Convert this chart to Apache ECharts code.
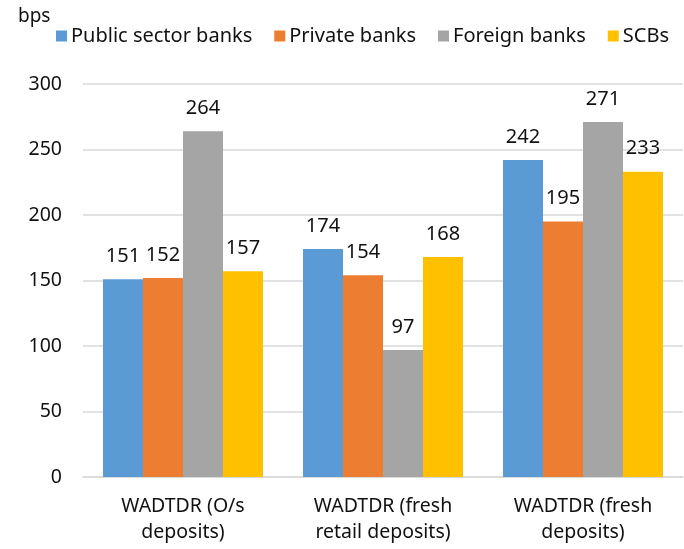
<!DOCTYPE html>
<html><head><meta charset="utf-8">
<script src="https://cdn.jsdelivr.net/npm/echarts@6/dist/echarts.min.js"></script>
<style>html,body{margin:0;padding:0;background:#fff}#c{width:684px;height:549px}</style>
</head><body><div id="c"></div>
<script>
const categories = ['WADTDR (O/s\ndeposits)', 'WADTDR (fresh\nretail deposits)', 'WADTDR (fresh\ndeposits)'];
const seriesNames = ['Public sector banks', 'Private banks', 'Foreign banks', 'SCBs'];
const publicSector = [151, 174, 242];
const privateBanks = [152, 154, 195];
const foreignBanks = [264, 97, 271];
const scbs = [157, 168, 233];
const colors = ['#5B9BD5', '#ED7D31', '#A5A5A5', '#FFC000'];
const values = [publicSector, privateBanks, foreignBanks, scbs];
const font = 'Noto Sans';
const txt = '#111';
const chart = echarts.init(document.getElementById('c'));
chart.setOption({
  animation: false,
  textStyle: {fontFamily: font},
  title: {text: 'bps', left: 13, top: 2, textStyle: {fontFamily: font, fontSize: 19, fontWeight: 'normal', color: txt}},
  legend: {left: 51, top: 21, itemWidth: 11, itemHeight: 11, itemGap: 22, icon: 'rect',
    textStyle: {fontFamily: font, fontSize: 20, color: txt, padding: [0,0,0,-1]}, data: seriesNames},
  grid: {left: 83, right: 1, top: 84, bottom: 72},
  xAxis: {type: 'category', data: categories,
    axisLine: {lineStyle: {color: '#d9d9d9', width: 1.5}}, axisTick: {show: false},
    axisLabel: {fontFamily: font, fontSize: 19.5, color: txt, margin: 16, lineHeight: 26}},
  yAxis: {type: 'value', min: 0, max: 300, interval: 50,
    axisLine: {show: false}, axisTick: {show: false},
    splitLine: {lineStyle: {color: '#d9d9d9', width: 1.5}},
    axisLabel: {fontFamily: font, fontSize: 19.5, color: txt, margin: 21}},
  series: values.map((v, i) => ({
    name: seriesNames[i], type: 'bar', data: v, barGap: '0%', barCategoryGap: '20%',
    itemStyle: {color: colors[i]},
    label: {show: true, position: 'top', distance: 13, fontFamily: font, fontSize: 20, color: txt}
  }))
});
</script></body></html>
